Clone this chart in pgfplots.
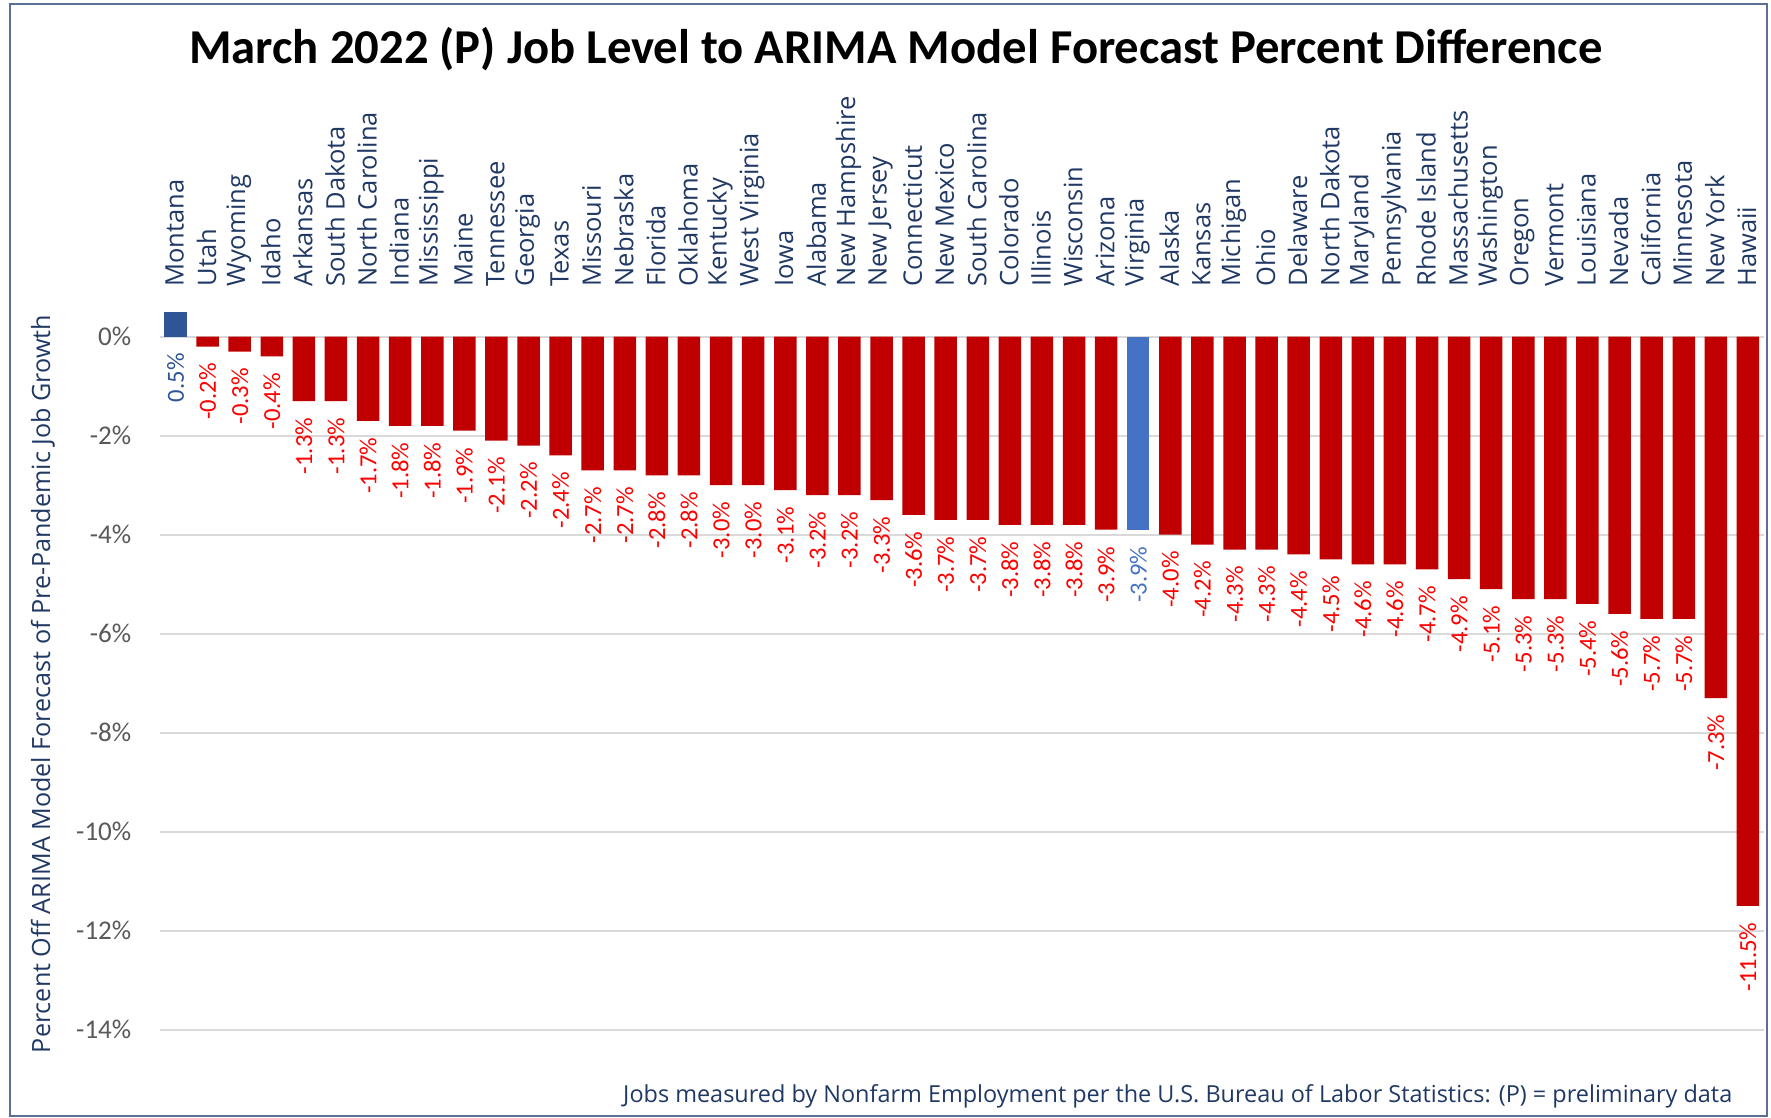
\documentclass[border=0pt]{standalone}
\usepackage{pgfplots}
\pgfplotsset{compat=1.18}
\usepackage{fontspec}
\setmainfont{Carlito}
\newfontfamily\osans{Open Sans}
\definecolor{barred}{HTML}{C00000}
\definecolor{montblue}{HTML}{2F5597}
\definecolor{virblue}{HTML}{4472C4}
\definecolor{labred}{HTML}{FF0000}
\definecolor{navy}{HTML}{203864}
\definecolor{tickgray}{HTML}{595959}
\definecolor{gridgray}{HTML}{D9D9D9}
\definecolor{bordercol}{HTML}{5A6E96}
\begin{document}
\begin{tikzpicture}
\useasboundingbox (0,0) rectangle (177.1mm,111.8mm);
\draw[bordercol, line width=0.22mm] (1.0mm,0.2mm) rectangle (176.7mm,111.4mm);
\tikzset{lbl/.style={font=\fontsize{7pt}{8pt}\selectfont, inner sep=0pt, anchor=east, yshift=-1.6mm, rotate=90}}
\begin{axis}[
  at={(15.95mm,8.83mm)}, anchor=south west,
  scale only axis, width=160.45mm, height=74.25mm,
  xmin=-0.5, xmax=49.5, ymin=-14, ymax=1,
  clip=false,
  axis line style={draw=none},
  major tick length=0pt,
  ymajorgrids, grid style={gridgray, line width=0.2mm},
  ytick={-14,-12,-10,-8,-6,-4,-2,0},
  yticklabels={-14\%,-12\%,-10\%,-8\%,-6\%,-4\%,-2\%,0\%},
  yticklabel style={font=\fontsize{7.7pt}{9pt}\selectfont, text=tickgray, anchor=east, inner sep=0pt, xshift=-2.75mm},
  xtick={0,...,49},
  xticklabel pos=upper,
  xticklabels={Montana,Utah,Wyoming,Idaho,Arkansas,South Dakota,North Carolina,Indiana,Mississippi,Maine,Tennessee,Georgia,Texas,Missouri,Nebraska,Florida,Oklahoma,Kentucky,West Virginia,Iowa,Alabama,New Hampshire,New Jersey,Connecticut,New Mexico,South Carolina,Colorado,Illinois,Wisconsin,Arizona,Virginia,Alaska,Kansas,Michigan,Ohio,Delaware,North Dakota,Maryland,Pennsylvania,Rhode Island,Massachusetts,Washington,Oregon,Vermont,Louisiana,Nevada,California,Minnesota,New York,Hawaii},
  xticklabel style={font=\osans\fontsize{7.25pt}{8pt}\selectfont, text=navy, rotate=90, anchor=west, inner sep=0pt, yshift=0.1mm},
]
\addplot[ybar, bar width=2.25mm, bar shift=0pt, fill=montblue, draw=none] coordinates {(0,0.5)};
\addplot[ybar, bar width=2.25mm, bar shift=0pt, fill=virblue, draw=none] coordinates {(30,-3.9)};
\addplot[ybar, bar width=2.25mm, bar shift=0pt, fill=barred, draw=none] coordinates {
(1,-0.2)(2,-0.3)(3,-0.4)(4,-1.3)(5,-1.3)(6,-1.7)(7,-1.8)(8,-1.8)(9,-1.9)(10,-2.1)
(11,-2.2)(12,-2.4)(13,-2.7)(14,-2.7)(15,-2.8)(16,-2.8)(17,-3.0)(18,-3.0)(19,-3.1)(20,-3.2)
(21,-3.2)(22,-3.3)(23,-3.6)(24,-3.7)(25,-3.7)(26,-3.8)(27,-3.8)(28,-3.8)(29,-3.9)
(31,-4.0)(32,-4.2)(33,-4.3)(34,-4.3)(35,-4.4)(36,-4.5)(37,-4.6)(38,-4.6)(39,-4.7)(40,-4.9)
(41,-5.1)(42,-5.3)(43,-5.3)(44,-5.4)(45,-5.6)(46,-5.7)(47,-5.7)(48,-7.3)(49,-11.5)};
% value labels
\addplot[draw=none, mark=none, nodes near coords, point meta=explicit symbolic,
  every node near coord/.style={lbl, text=montblue}] coordinates {(0,0) [0.5\%]};
\addplot[draw=none, mark=none, nodes near coords, point meta=explicit symbolic,
  every node near coord/.style={lbl, text=virblue}] coordinates {(30,-3.9) [-3.9\%]};
\addplot[draw=none, mark=none, nodes near coords, point meta=explicit symbolic,
  every node near coord/.style={lbl, text=labred}] coordinates {
(1,-0.2)[-0.2\%] (2,-0.3)[-0.3\%] (3,-0.4)[-0.4\%] (4,-1.3)[-1.3\%] (5,-1.3)[-1.3\%]
(6,-1.7)[-1.7\%] (7,-1.8)[-1.8\%] (8,-1.8)[-1.8\%] (9,-1.9)[-1.9\%] (10,-2.1)[-2.1\%]
(11,-2.2)[-2.2\%] (12,-2.4)[-2.4\%] (13,-2.7)[-2.7\%] (14,-2.7)[-2.7\%] (15,-2.8)[-2.8\%]
(16,-2.8)[-2.8\%] (17,-3.0)[-3.0\%] (18,-3.0)[-3.0\%] (19,-3.1)[-3.1\%] (20,-3.2)[-3.2\%]
(21,-3.2)[-3.2\%] (22,-3.3)[-3.3\%] (23,-3.6)[-3.6\%] (24,-3.7)[-3.7\%] (25,-3.7)[-3.7\%]
(26,-3.8)[-3.8\%] (27,-3.8)[-3.8\%] (28,-3.8)[-3.8\%] (29,-3.9)[-3.9\%]
(31,-4.0)[-4.0\%] (32,-4.2)[-4.2\%] (33,-4.3)[-4.3\%] (34,-4.3)[-4.3\%] (35,-4.4)[-4.4\%]
(36,-4.5)[-4.5\%] (37,-4.6)[-4.6\%] (38,-4.6)[-4.6\%] (39,-4.7)[-4.7\%] (40,-4.9)[-4.9\%]
(41,-5.1)[-5.1\%] (42,-5.3)[-5.3\%] (43,-5.3)[-5.3\%] (44,-5.4)[-5.4\%] (45,-5.6)[-5.6\%]
(46,-5.7)[-5.7\%] (47,-5.7)[-5.7\%] (48,-7.3)[-7.3\%] (49,-11.5)[-11.5\%]};
\end{axis}
\node[anchor=base, font=\bfseries\fontsize{13.85pt}{16pt}\selectfont] at (89.6mm,105.4mm) {March 2022 (P) Job Level to ARIMA Model Forecast Percent Difference};
\node[rotate=90, font=\osans\fontsize{7.15pt}{8pt}\selectfont, text=navy, inner sep=0pt] at (4.3mm,43.4mm) {Percent Off ARIMA Model Forecast of Pre-Pandemic Job Growth};
\node[anchor=base east, font=\osans\fontsize{6.67pt}{8pt}\selectfont, text=navy, inner sep=0pt] at (173.3mm,1.5mm) {Jobs measured by Nonfarm Employment per the U.S. Bureau of Labor Statistics: (P) = preliminary data};
\end{tikzpicture}
\end{document}
